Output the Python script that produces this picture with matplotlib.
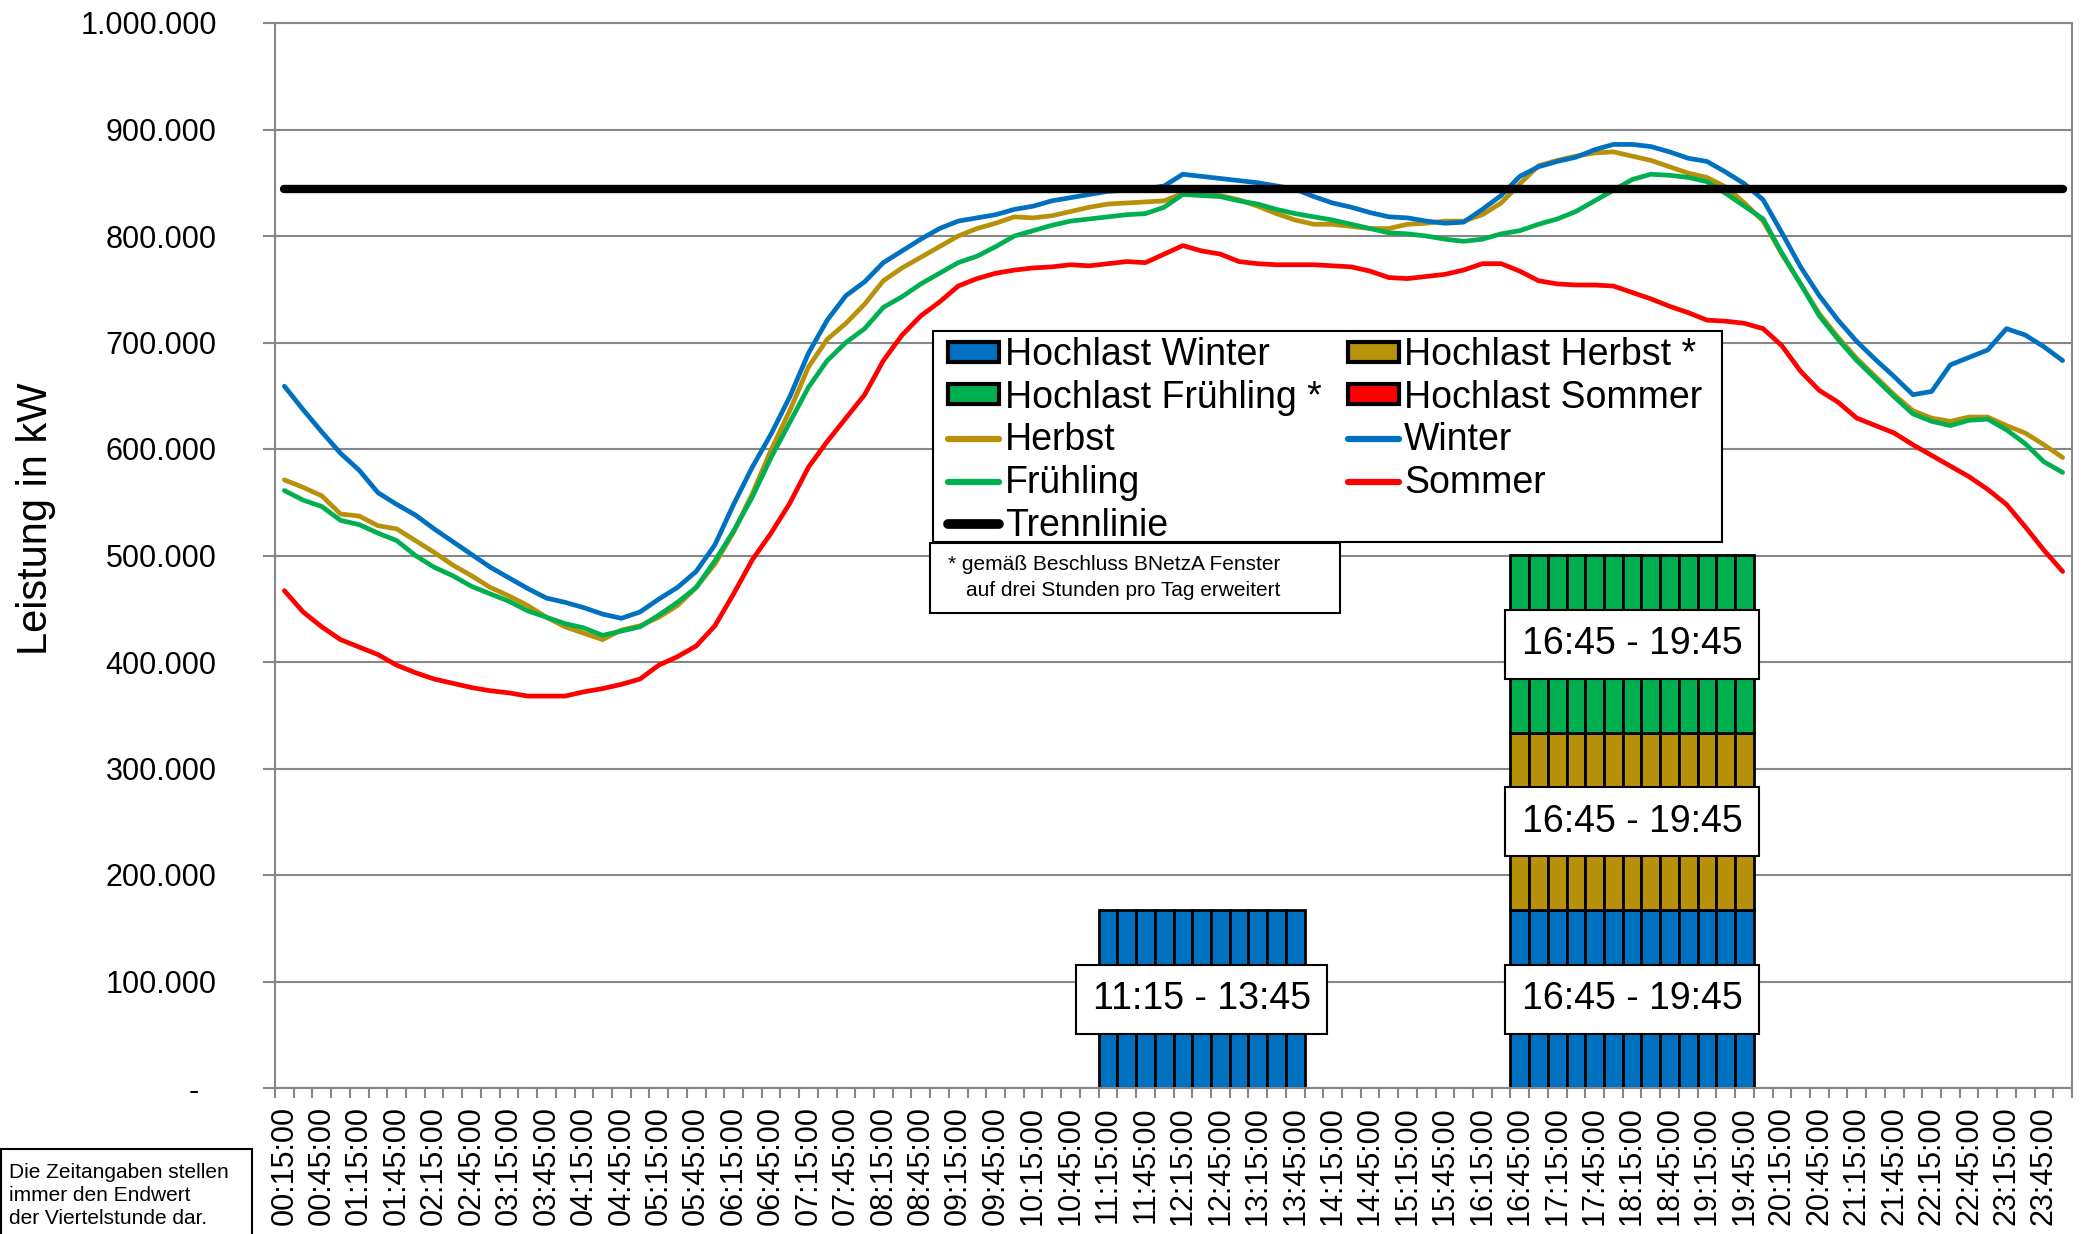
import numpy as np
import matplotlib
matplotlib.use("Agg")
import matplotlib.pyplot as plt
from matplotlib.patches import Patch, Rectangle
from matplotlib.lines import Line2D

plt.rcParams["font.family"] = ["Liberation Sans", "DejaVu Sans"]

# ------------------------------------------------------------
# Daten (Leistung in 1.000 kW, Viertelstunden-Endwerte)
# ------------------------------------------------------------
zeiten = []
for k in range(1, 97):
    m = k * 15
    zeiten.append(f"{(m // 60) % 24:02d}:{m % 60:02d}:00")

winter = [
    659, 637, 616, 596, 580, 559, 548, 538, 525, 513,
    501, 489, 479, 469, 460, 456, 451, 445, 441, 447,
    459, 470, 485, 510, 548, 583, 614, 649, 690, 721,
    744, 757, 775, 786, 797, 807, 814, 817, 820, 825,
    828, 833, 836, 839, 842, 843, 844, 847, 858, 856,
    854, 852, 850, 847, 844, 837, 831, 827, 822, 818,
    817, 814, 812, 813, 825, 838, 856, 865, 870, 874,
    881, 886, 886, 884, 879, 873, 870, 860, 849, 834,
    803, 771, 744, 721, 701, 684, 668, 651, 654, 679,
    686, 693, 713, 707, 696, 683,
]
herbst = [
    571, 564, 556, 539, 537, 528, 525, 514, 503, 491,
    481, 470, 462, 453, 442, 433, 427, 421, 430, 434,
    442, 453, 470, 492, 522, 558, 599, 636, 677, 703,
    718, 736, 758, 770, 780, 790, 800, 807, 812, 818,
    817, 819, 823, 827, 830, 831, 832, 833, 840, 839,
    838, 834, 828, 821, 815, 811, 811, 809, 807, 807,
    811, 812, 814, 814, 820, 831, 849, 866, 871, 875,
    878, 879, 875, 871, 865, 859, 855, 846, 831, 814,
    783, 755, 727, 705, 685, 668, 651, 636, 629, 626,
    630, 630, 622, 615, 604, 592,
]
fruehling = [
    561, 552, 546, 533, 529, 521, 514, 500, 489, 481,
    471, 464, 457, 448, 442, 436, 432, 425, 429, 433,
    444, 456, 470, 495, 523, 555, 592, 625, 658, 683,
    700, 713, 733, 743, 755, 765, 775, 781, 790, 800,
    805, 810, 814, 816, 818, 820, 821, 827, 839, 838,
    837, 833, 830, 825, 821, 818, 815, 811, 807, 803,
    802, 800, 797, 795, 797, 802, 805, 811, 816, 823,
    833, 843, 853, 858, 857, 855, 851, 840, 828, 816,
    784, 755, 725, 703, 683, 666, 649, 633, 626, 622,
    627, 628, 618, 605, 588, 578,
]
sommer = [
    467, 447, 433, 421, 414, 407, 397, 390, 384, 380,
    376, 373, 371, 368, 368, 368, 372, 375, 379, 384,
    397, 405, 415, 434, 464, 496, 521, 549, 583, 607,
    629, 651, 683, 707, 725, 738, 753, 760, 765, 768,
    770, 771, 773, 772, 774, 776, 775, 783, 791, 786,
    783, 776, 774, 773, 773, 773, 772, 771, 767, 761,
    760, 762, 764, 768, 774, 774, 767, 758, 755, 754,
    754, 753, 747, 741, 734, 728, 721, 720, 718, 713,
    697, 673, 655, 644, 629, 622, 615, 604, 594, 584,
    574, 562, 548, 527, 505, 485,
]
trennlinie = 844000

# Hochlastzeitfenster je Jahreszeit (Start, Ende) und Balkenhoehe
fenster_winter = [("11:15", "13:45"), ("16:45", "19:45")]
fenster_herbst = [("16:45", "19:45")]
fenster_fruehling = [("16:45", "19:45")]
fenster_sommer = []
hochlast_hoehe = 166667

farben = {"winter": "#0070C0", "herbst": "#B8910A",
          "fruehling": "#00B050", "sommer": "#FF0000"}

# ------------------------------------------------------------
W, H = 2093, 1234
fig = plt.figure(figsize=(W / 100, H / 100), dpi=100)
ax = fig.add_axes([275 / W, 1 - 1088 / H, 1797 / W, 1065 / H])
x = np.arange(96)


def idx(t):
    return zeiten.index(t + ":00")


def fenster_werte(fenster):
    v = np.zeros(96)
    for a, b in fenster:
        v[idx(a):idx(b) + 1] = hochlast_hoehe
    return v


stack = [("winter", fenster_winter), ("herbst", fenster_herbst),
         ("fruehling", fenster_fruehling), ("sommer", fenster_sommer)]
bottom = np.zeros(96)
for name, fen in stack:
    h = fenster_werte(fen)
    m = h > 0
    if m.any():
        ax.bar(x[m], h[m], bottom=bottom[m], width=1.0, color=farben[name],
               edgecolor="black", linewidth=2, zorder=2)
    for a, b in fen:
        i0, i1 = idx(a), idx(b)
        xc = (i0 + i1) / 2
        yc = bottom[i0] + hochlast_hoehe / 2
        ax.text(xc, yc, f"{a} - {b}", ha="center", va="center", fontsize=27,
                zorder=6,
                bbox=dict(boxstyle="square,pad=0.44", facecolor="white",
                          edgecolor="black", linewidth=1.5))
    bottom = bottom + h

# Linien
for name, werte in [("herbst", herbst), ("fruehling", fruehling),
                    ("sommer", sommer), ("winter", winter)]:
    ax.plot(x, np.array(werte) * 1000, color=farben[name], lw=3.4,
            solid_capstyle="round", solid_joinstyle="round", zorder=4)
ax.plot(x, np.full(96, trennlinie), color="black", lw=6,
        solid_capstyle="round", zorder=5)

# Achsen
grau = "#878787"
ax.set_xlim(-0.5, 95.5)
ax.set_ylim(0, 1000000)
yt = np.arange(0, 1000001, 100000)
ax.set_yticks(yt)
ax.set_yticklabels(["-  " if v == 0 else f"{v:,}".replace(",", ".") for v in yt])
ax.yaxis.grid(True, color=grau, lw=1.5)
ax.set_axisbelow(True)
ax.set_xticks(x[::2])
ax.set_xticklabels(zeiten[::2], rotation=90)
ax.set_xticks(np.arange(-0.5, 96, 1), minor=True)
ax.tick_params(axis="x", which="major", length=0, pad=13, labelsize=22)
ax.tick_params(axis="x", which="minor", length=7, width=1.5, color=grau)
ax.tick_params(axis="y", length=9, width=1.5, color=grau, pad=33, labelsize=22)
for s in ax.spines.values():
    s.set_color(grau)
    s.set_linewidth(1.5)

fig.text(36 / W, 1 - 519 / H, "Leistung in kW", rotation=90, fontsize=30,
         ha="center", va="center")

# Legende (Rahmen separat, wie im Original asymmetrisch)
fig.add_artist(Rectangle((933 / W, 1 - 542 / H), (1722 - 933) / W, (542 - 331) / H,
                         transform=fig.transFigure, facecolor="white",
                         edgecolor="black", lw=1.5, zorder=6))
handles = [
    Patch(facecolor=farben["winter"], edgecolor="black", lw=3),
    Patch(facecolor=farben["fruehling"], edgecolor="black", lw=3),
    Line2D([], [], color=farben["herbst"], lw=4.5, solid_capstyle="round"),
    Line2D([], [], color=farben["fruehling"], lw=4.5, solid_capstyle="round"),
    Line2D([], [], color="black", lw=7, solid_capstyle="round"),
    Patch(facecolor=farben["herbst"], edgecolor="black", lw=3),
    Patch(facecolor=farben["sommer"], edgecolor="black", lw=3),
    Line2D([], [], color=farben["winter"], lw=4.5, solid_capstyle="round"),
    Line2D([], [], color=farben["sommer"], lw=4.5, solid_capstyle="round"),
]
labels = ["Hochlast Winter", "Hochlast Frühling *", "Herbst", "Frühling",
          "Trennlinie", "Hochlast Herbst *", "Hochlast Sommer", "Winter",
          "Sommer"]
leg = fig.legend(handles, labels, ncol=2, loc="upper left",
                 bbox_to_anchor=(948 / W, 1 - 337 / H),
                 bbox_transform=fig.transFigure, borderaxespad=0,
                 fontsize=27, frameon=False, borderpad=0,
                 labelspacing=0.18, columnspacing=0.7,
                 handletextpad=0.15, handlelength=1.36, handleheight=0.45)
leg.set_zorder(7)

# Hinweis-Kaesten
fig.add_artist(Rectangle((930 / W, 1 - 613 / H), 410 / W, 70 / H,
                         transform=fig.transFigure, facecolor="white",
                         edgecolor="black", lw=1.5, zorder=8))
fig.text(948 / W, 1 - 565 / H, "* gemäß Beschluss BNetzA Fenster",
         fontsize=15, va="center", zorder=9)
fig.text(966 / W, 1 - 590 / H, "auf drei Stunden pro Tag erweitert",
         fontsize=15, va="center", zorder=9)

fig.add_artist(Rectangle((1 / W, -5 / H), 251 / W, (1234 - 1149 + 5) / H,
                         transform=fig.transFigure, facecolor="white",
                         edgecolor="black", lw=1.5))
fig.text(9 / W, 1 - 1163 / H,
         "Die Zeitangaben stellen\nimmer den Endwert\nder Viertelstunde dar.",
         fontsize=15, va="top", linespacing=1.28)

fig.savefig("out.png", dpi=100)
